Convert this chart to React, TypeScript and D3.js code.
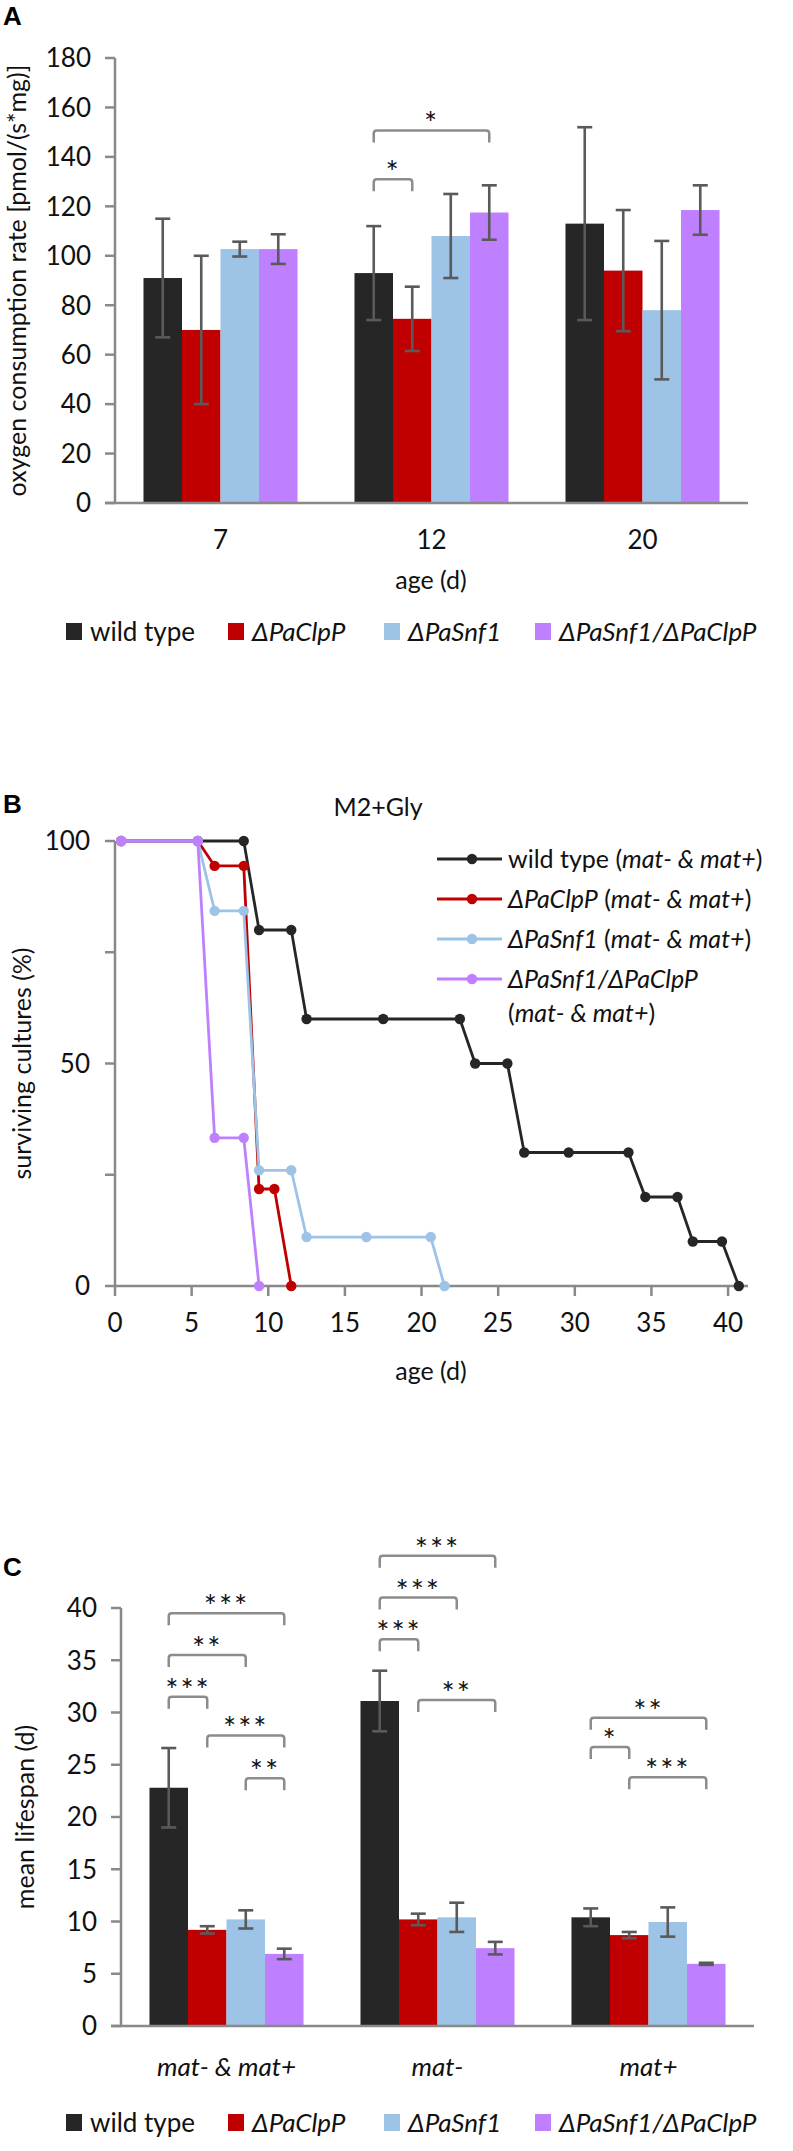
import React, { useEffect } from "react";
import * as d3 from "d3";

const W = 793;
const H = 2151;

const strains = ["wild type", "ΔPaClpP", "ΔPaSnf1", "ΔPaSnf1/ΔPaClpP"];
const strainColors = ["#262626", "#c00000", "#9dc3e6", "#bf80ff"];

// panel A: oxygen consumption
const oxyAges = ["7", "12", "20"];
const oxyMean = [
  [91, 93, 113],
  [70, 74.5, 94],
  [102.7, 108, 78],
  [102.7, 117.5, 118.5],
];
const oxyErr = [
  [24, 19, 39],
  [30, 13, 24.5],
  [3, 17, 28],
  [6, 11, 10],
];
const oxyTicks = [0, 20, 40, 60, 80, 100, 120, 140, 160, 180];
const oxySig = [
  { group: "12", from: 0, to: 1, y: 131, label: "*" },
  { group: "12", from: 0, to: 3, y: 150.7, label: "*" },
];

// panel B: survival curves
const survDays = [
  [0.4, 5.4, 8.4, 9.4, 11.5, 12.5, 17.5, 22.5, 23.5, 25.6, 26.7, 29.6, 33.5, 34.6, 36.7, 37.7, 39.6, 40.7],
  [0.4, 5.4, 6.5, 8.4, 9.4, 10.4, 11.5],
  [0.4, 5.4, 6.5, 8.4, 9.4, 11.5, 12.5, 16.4, 20.6, 21.5],
  [0.4, 5.4, 6.5, 8.4, 9.4],
];
const survPct = [
  [100, 100, 100, 80, 80, 60, 60, 60, 50, 50, 30, 30, 30, 20, 20, 10, 10, 0],
  [100, 100, 94.4, 94.4, 21.8, 21.8, 0],
  [100, 100, 84.3, 84.3, 26, 26, 11, 11, 11, 0],
  [100, 100, 33.3, 33.3, 0],
];
const survXTicks = [0, 5, 10, 15, 20, 25, 30, 35, 40];
const survYTicks = [0, 25, 50, 75, 100];
const survYLabels = [0, 50, 100];

// panel C: mean lifespan
const matGroups = ["mat- & mat+", "mat-", "mat+"];
const lifeMean = [
  [22.8, 31.1, 10.4],
  [9.2, 10.2, 8.7],
  [10.2, 10.4, 9.95],
  [6.9, 7.45, 5.95],
];
const lifeErr = [
  [3.8, 2.9, 0.85],
  [0.35, 0.55, 0.3],
  [0.87, 1.4, 1.4],
  [0.5, 0.6, 0.1],
];
const lifeTicks = [0, 5, 10, 15, 20, 25, 30, 35, 40];
const lifeSig = [
  { group: "mat- & mat+", from: 0, to: 1, y: 31.5, label: "***" },
  { group: "mat- & mat+", from: 0, to: 2, y: 35.5, label: "**" },
  { group: "mat- & mat+", from: 0, to: 3, y: 39.5, label: "***" },
  { group: "mat- & mat+", from: 1, to: 3, y: 27.8, label: "***" },
  { group: "mat- & mat+", from: 2, to: 3, y: 23.7, label: "**" },
  { group: "mat-", from: 0, to: 1, y: 37, label: "***" },
  { group: "mat-", from: 0, to: 2, y: 41, label: "***" },
  { group: "mat-", from: 0, to: 3, y: 45, label: "***" },
  { group: "mat-", from: 1, to: 3, y: 31.2, label: "**" },
  { group: "mat+", from: 0, to: 1, y: 26.7, label: "*" },
  { group: "mat+", from: 0, to: 3, y: 29.5, label: "**" },
  { group: "mat+", from: 1, to: 3, y: 23.8, label: "***" },
];

const FONT = "Lato, 'Open Sans', sans-serif";
const AXIS = "#898989";
const ERR = "#5a5a5a";
const BRK = "#8c8c8c";
const TICK_FS = 26;

type Sig = { group: string; from: number; to: number; y: number; label: string };

function BarPanel(props: {
  cats: string[];
  means: number[][];
  errs: number[][];
  ticks: number[];
  sig: Sig[];
  x0: number;
  x1: number;
  yTop: number;
  yBot: number;
  yMax: number;
  italicCats?: boolean;
  catY: number;
}) {
  const { cats, means, errs, ticks, sig, x0, x1, yTop, yBot, yMax, italicCats, catY } = props;
  const xo = d3.scaleBand<string>().domain(cats).range([x0, x1]).paddingInner(0.27).paddingOuter(0.135);
  const xi = d3.scaleBand<number>().domain(d3.range(strains.length)).range([0, xo.bandwidth()]);
  const y = d3.scaleLinear().domain([0, yMax]).range([yBot, yTop]);
  const cx = (g: string, s: number) => (xo(g) as number) + (xi(s) as number) + xi.bandwidth() / 2;
  const cap = 7.5;
  return (
    <g>
      {means.map((row, s) =>
        row.map((v, i) => (
          <rect
            key={`b${s}-${i}`}
            x={(xo(cats[i]) as number) + (xi(s) as number)}
            y={y(v)}
            width={xi.bandwidth()}
            height={yBot - y(v)}
            fill={strainColors[s]}
          />
        ))
      )}
      {means.map((row, s) =>
        row.map((v, i) => {
          const c = cx(cats[i], s);
          const hi = y(v + errs[s][i]);
          const lo = y(v - errs[s][i]);
          return (
            <g key={`e${s}-${i}`} stroke={ERR} strokeWidth={2.6}>
              <line x1={c} x2={c} y1={hi} y2={lo} />
              <line x1={c - cap} x2={c + cap} y1={hi} y2={hi} />
              <line x1={c - cap} x2={c + cap} y1={lo} y2={lo} />
            </g>
          );
        })
      )}
      <line x1={x0} x2={x0} y1={yTop} y2={yBot} stroke={AXIS} strokeWidth={2.5} />
      <line x1={x0 - 10} x2={x1} y1={yBot} y2={yBot} stroke={AXIS} strokeWidth={2.5} />
      {ticks.map((t) => (
        <g key={`t${t}`}>
          <line x1={x0 - 10} x2={x0} y1={y(t)} y2={y(t)} stroke={AXIS} strokeWidth={2.5} />
          <text x={x0 - 24} y={y(t)} dy="0.36em" textAnchor="end" fontSize={TICK_FS} fontFamily={FONT} fill="#111">
            {t}
          </text>
        </g>
      ))}
      {cats.map((c) => (
        <text
          key={`c${c}`}
          x={(xo(c) as number) + xo.bandwidth() / 2}
          y={catY}
          textAnchor="middle"
          fontSize={TICK_FS}
          fontStyle={italicCats ? "italic" : "normal"}
          fontFamily={FONT}
          fill="#111"
        >
          {c}
        </text>
      ))}
      {sig.map((b, k) => {
        const a = cx(b.group, b.from);
        const e = cx(b.group, b.to);
        const yy = y(b.y);
        const drop = 12;
        const r = 3;
        const d = `M${a},${yy + drop} L${a},${yy + r} Q${a},${yy} ${a + r},${yy} L${e - r},${yy} Q${e},${yy} ${e},${yy + r} L${e},${yy + drop}`;
        return (
          <g key={`s${k}`}>
            <path d={d} fill="none" stroke={BRK} strokeWidth={2.5} />
            <text x={(a + e) / 2} y={yy + 4} textAnchor="middle" fontSize={31} letterSpacing={2} fontFamily={FONT} fill="#111">
              {b.label}
            </text>
          </g>
        );
      })}
    </g>
  );
}

function SquareLegend({ y }: { y: number }) {
  const xs = [66, 228, 384, 535];
  return (
    <g>
      {strains.map((s, i) => (
        <g key={s}>
          <rect x={xs[i]} y={y - 9} width={16} height={17} fill={strainColors[i]} />
          <text
            x={xs[i] + 24}
            y={y}
            dy="0.36em"
            fontSize={26}
            fontStyle={i === 0 ? "normal" : "italic"}
            fontFamily={FONT}
            fill="#111"
          >
            {s}
          </text>
        </g>
      ))}
    </g>
  );
}

function SurvivalPanel() {
  const x = d3.scaleLinear().domain([0, 41.3]).range([115, 748]);
  const y = d3.scaleLinear().domain([0, 100]).range([1286, 841]);
  const line = d3
    .line<[number, number]>()
    .x((d) => x(d[0]))
    .y((d) => y(d[1]));
  const legendRows = [
    { up: "wild type (", it: "mat- & mat+", end: ")", y: 859 },
    { up: "", it: "ΔPaClpP", mid: " (", it2: "mat- & mat+", end: ")", y: 899 },
    { up: "", it: "ΔPaSnf1", mid: " (", it2: "mat- & mat+", end: ")", y: 939 },
    { up: "", it: "ΔPaSnf1/ΔPaClpP", end: "", y: 979 },
  ];
  return (
    <g>
      <text x={378} y={807} dy="0.36em" textAnchor="middle" fontSize={25} fontFamily={FONT} fill="#111">
        M2+Gly
      </text>
      <line x1={115} x2={115} y1={841} y2={1286} stroke={AXIS} strokeWidth={2.5} />
      <line x1={115} x2={748} y1={1286} y2={1286} stroke={AXIS} strokeWidth={2.5} />
      {survYTicks.map((t) => (
        <line key={`yt${t}`} x1={105} x2={115} y1={y(t)} y2={y(t)} stroke={AXIS} strokeWidth={2.5} />
      ))}
      {survYLabels.map((t) => (
        <text key={`yl${t}`} x={90} y={y(t)} dy="0.36em" textAnchor="end" fontSize={TICK_FS} fontFamily={FONT} fill="#111">
          {t}
        </text>
      ))}
      {survXTicks.map((t) => (
        <g key={`xt${t}`}>
          <line x1={x(t)} x2={x(t)} y1={1286} y2={1296} stroke={AXIS} strokeWidth={2.5} />
          <text x={x(t)} y={1323} dy="0.36em" textAnchor="middle" fontSize={TICK_FS} fontFamily={FONT} fill="#111">
            {t}
          </text>
        </g>
      ))}
      <text x={431} y={1371} dy="0.36em" textAnchor="middle" fontSize={25} fontFamily={FONT} fill="#111">
        age (d)
      </text>
      <text
        transform={`translate(22,${(841 + 1286) / 2}) rotate(-90)`}
        textAnchor="middle"
        dy="0.36em"
        fontSize={25}
        fontFamily={FONT}
        fill="#111"
      >
        surviving cultures (%)
      </text>
      {survDays.map((days, s) => {
        const pts = days.map((d, i) => [d, survPct[s][i]] as [number, number]);
        return (
          <g key={`sv${s}`}>
            <path d={line(pts) as string} fill="none" stroke={strainColors[s]} strokeWidth={2.8} />
            {pts.map((p, i) => (
              <circle key={i} cx={x(p[0])} cy={y(p[1])} r={5.2} fill={strainColors[s]} />
            ))}
          </g>
        );
      })}
      {legendRows.map((r, i) => (
        <g key={`lg${i}`}>
          <line x1={437} x2={502} y1={r.y} y2={r.y} stroke={strainColors[i]} strokeWidth={2.8} />
          <circle cx={472} cy={r.y} r={5.2} fill={strainColors[i]} />
          <text x={508} y={r.y} dy="0.36em" fontSize={25} fontFamily={FONT} fill="#111">
            {r.up}
            <tspan fontStyle="italic">{r.it}</tspan>
            {r.mid}
            {r.it2 ? <tspan fontStyle="italic">{r.it2}</tspan> : null}
            {r.end}
          </text>
        </g>
      ))}
      <text x={508} y={1013} dy="0.36em" fontSize={25} fontFamily={FONT} fill="#111">
        (<tspan fontStyle="italic">mat- & mat+</tspan>)
      </text>
    </g>
  );
}

export default function App() {
  useEffect(() => {
    document.body.style.margin = "0";
  }, []);
  return (
    <svg width={W} height={H} viewBox={`0 0 ${W} ${H}`} style={{ display: "block", background: "#fff" }}>
      <rect width={W} height={H} fill="#fff" />
      <text x={3} y={25} fontSize={26} fontWeight="bold" fontFamily="'Liberation Sans', Arial, sans-serif">A</text>
      <text x={3} y={813} fontSize={26} fontWeight="bold" fontFamily="'Liberation Sans', Arial, sans-serif">B</text>
      <text x={3} y={1576} fontSize={26} fontWeight="bold" fontFamily="'Liberation Sans', Arial, sans-serif">C</text>

      <BarPanel
        cats={oxyAges}
        means={oxyMean}
        errs={oxyErr}
        ticks={oxyTicks}
        sig={oxySig}
        x0={115}
        x1={748}
        yTop={58}
        yBot={503}
        yMax={180}
        catY={549}
      />
      <text transform={`translate(17,${(58 + 503) / 2}) rotate(-90)`} textAnchor="middle" dy="0.36em" fontSize={25} fontFamily={FONT} fill="#111">
        oxygen consumption rate [pmol/(s*mg)]
      </text>
      <text x={431} y={589} textAnchor="middle" fontSize={25} fontFamily={FONT} fill="#111">
        age (d)
      </text>
      <SquareLegend y={632} />

      <SurvivalPanel />

      <BarPanel
        cats={matGroups}
        means={lifeMean}
        errs={lifeErr}
        ticks={lifeTicks}
        sig={lifeSig}
        x0={121}
        x1={754}
        yTop={1608}
        yBot={2026}
        yMax={40}
        italicCats
        catY={2076}
      />
      <text transform={`translate(25,${(1608 + 2026) / 2}) rotate(-90)`} textAnchor="middle" dy="0.36em" fontSize={25} fontFamily={FONT} fill="#111">
        mean lifespan (d)
      </text>
      <SquareLegend y={2123} />
    </svg>
  );
}
